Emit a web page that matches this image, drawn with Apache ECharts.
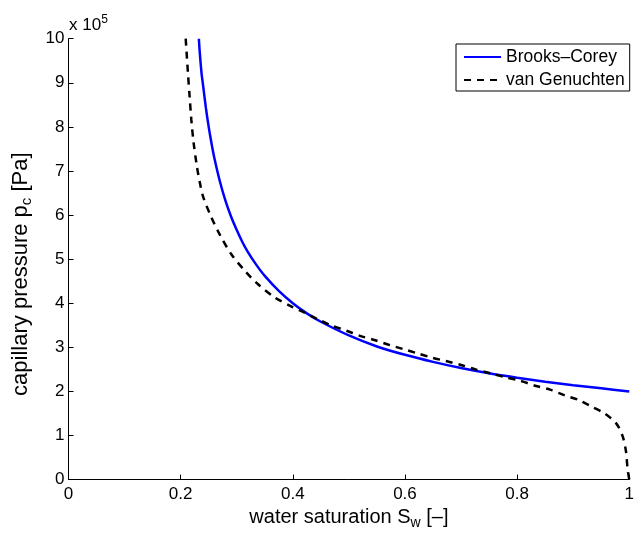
<!DOCTYPE html>
<html>
<head>
<meta charset="utf-8">
<script src="https://cdn.jsdelivr.net/npm/echarts@6/dist/echarts.min.js"></script>
<style>
html,body{margin:0;padding:0;background:#fff;}
#chart{width:637px;height:535px;}
</style>
</head>
<body>
<div id="chart"></div>
<script>
// Brooks-Corey curve (water saturation, capillary pressure x 1e5 Pa)
var bcSw = [0.2325, 0.234, 0.237, 0.240, 0.245, 0.250, 0.255, 0.260, 0.270, 0.280, 0.290, 0.300, 0.310, 0.320, 0.335, 0.350, 0.375, 0.400, 0.425, 0.450, 0.500, 0.550, 0.600, 0.650, 0.700, 0.750, 0.800, 0.850, 0.900, 0.950, 1.000];
var bcPc = [10.0, 9.70, 9.25, 8.94, 8.43, 8.00, 7.63, 7.30, 6.76, 6.32, 5.96, 5.66, 5.39, 5.16, 4.87, 4.62, 4.28, 4.00, 3.77, 3.58, 3.27, 3.02, 2.83, 2.67, 2.53, 2.41, 2.31, 2.22, 2.14, 2.07, 2.00];
// van Genuchten curve
var vgSw = [0.209, 0.213, 0.216, 0.219, 0.223, 0.229, 0.234, 0.240, 0.253, 0.270, 0.291, 0.315, 0.338, 0.368, 0.397, 0.420, 0.444, 0.470, 0.497, 0.520, 0.547, 0.573, 0.597, 0.623, 0.650, 0.673, 0.700, 0.726, 0.753, 0.779, 0.806, 0.832, 0.859, 0.885, 0.909, 0.932, 0.956, 0.977, 0.988, 0.994, 0.997, 1.000];
var vgPc = [10.0, 9.22, 8.69, 8.17, 7.65, 7.10, 6.75, 6.42, 6.00, 5.55, 5.10, 4.73, 4.43, 4.13, 3.93, 3.79, 3.64, 3.49, 3.37, 3.26, 3.16, 3.05, 2.96, 2.86, 2.76, 2.69, 2.60, 2.50, 2.41, 2.32, 2.24, 2.13, 2.04, 1.91, 1.81, 1.66, 1.50, 1.27, 0.99, 0.65, 0.24, 0.00];
var seriesNames = ['Brooks\u2013Corey', 'van Genuchten'];
var xTicks = [0, 0.2, 0.4, 0.6, 0.8, 1];
var yTicks = [0, 1, 2, 3, 4, 5, 6, 7, 8, 9, 10];

function pairs(xs, ys) { return xs.map(function (x, i) { return [x, ys[i]]; }); }

var FONT = '"Liberation Sans", Arial, Helvetica, sans-serif';
var chart = echarts.init(document.getElementById('chart'), null, {renderer: 'canvas'});
chart.setOption({
  animation: false,
  backgroundColor: '#ffffff',
  textStyle: {fontFamily: FONT, color: '#000'},
  grid: {left: 68.5, right: 2, top: 38.7, bottom: 51, containLabel: false},
  xAxis: {
    type: 'value', min: xTicks[0], max: xTicks[xTicks.length - 1], interval: 0.2,
    axisLine: {show: true, lineStyle: {color: '#000', width: 1}},
    axisTick: {show: true, inside: true, length: 5, lineStyle: {color: '#000'}},
    splitLine: {show: false},
    axisLabel: {color: '#000', fontSize: 17, fontFamily: FONT, margin: 6,
      formatter: function (v) { return String(Math.round(v * 10) / 10); }},
    name: 'water saturation S{sub|w} [\u2013]',
    nameLocation: 'middle', nameGap: 23,
    nameTextStyle: {color: '#000', fontSize: 20, fontFamily: FONT,
      rich: {sub: {fontSize: 14, fontFamily: FONT, color: '#000', verticalAlign: 'bottom', padding: [11, 0, 0, 0]}}}
  },
  yAxis: {
    type: 'value', min: yTicks[0], max: yTicks[yTicks.length - 1], interval: 1,
    axisLine: {show: true, lineStyle: {color: '#000', width: 1}},
    axisTick: {show: true, inside: true, length: 5, lineStyle: {color: '#000'}},
    splitLine: {show: false},
    axisLabel: {color: '#000', fontSize: 17, fontFamily: FONT, margin: 4},
    name: 'capillary pressure p{sub|c} [Pa]',
    nameLocation: 'middle', nameGap: 31, nameRotate: 90,
    nameTextStyle: {color: '#000', fontSize: 22, fontFamily: FONT, padding: [0, 30, 0, 0],
      rich: {sub: {fontSize: 15, fontFamily: FONT, color: '#000', verticalAlign: 'bottom', padding: [12, 0, 0, 0]}}}
  },
  legend: {
    show: true, orient: 'vertical', left: 456, top: 44,
    padding: [3, 5, 1, 7], itemGap: 3, itemWidth: 37, itemHeight: 14,
    borderColor: '#000', borderWidth: 1, backgroundColor: '#fff',
    itemStyle: {opacity: 0},
    textStyle: {color: '#000', fontSize: 17.5, fontFamily: FONT, lineHeight: 20},
    data: seriesNames
  },
  graphic: [{
    type: 'text', left: 69, top: 14, silent: true,
    style: {text: 'x 10{sup|5}', fontSize: 17, fontFamily: FONT, fill: '#000',
      rich: {sup: {fontSize: 12, fontFamily: FONT, fill: '#000', verticalAlign: 'top', padding: [0, 0, 10, 0]}}}
  }],
  series: [
    {name: seriesNames[0], type: 'line', data: pairs(bcSw, bcPc), showSymbol: false, symbol: 'none',
      smooth: 0.3, lineStyle: {color: '#0000ff', width: 2.5}, itemStyle: {color: '#0000ff'}, z: 2},
    {name: seriesNames[1], type: 'line', data: pairs(vgSw, vgPc), showSymbol: false, symbol: 'none',
      smooth: 0.3, lineStyle: {color: '#000', width: 2.5, type: [7, 6]}, itemStyle: {color: '#000'}, z: 3}
  ]
});
</script>
</body>
</html>
